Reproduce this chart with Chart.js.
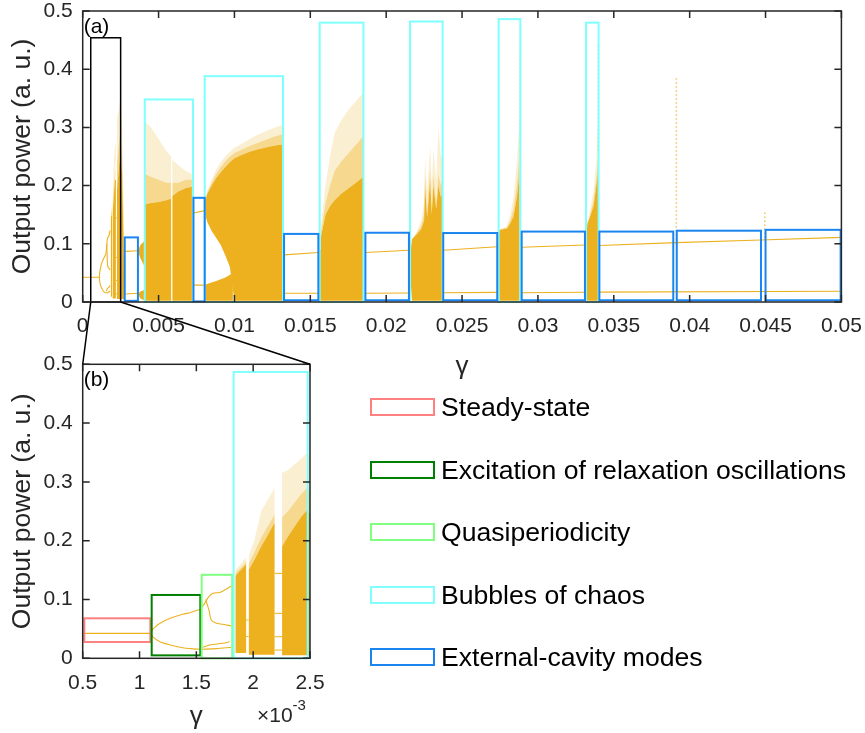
<!DOCTYPE html>
<html lang="en">
<head>
<meta charset="UTF-8">
<title>Output power versus feedback strength</title>
<script src="https://cdn.jsdelivr.net/npm/chart.js"></script>
<style>
  body { margin: 0; background: #fff; overflow: hidden; }
  #wrap { position: relative; width: 865px; height: 733px; font-family: "Liberation Sans", Arial, sans-serif; }
  #wrap canvas { position: absolute; left: 0; top: 0; }
  .key { position: absolute; left: 370px; width: 61px; height: 14px; border: 2px solid; }
  .keyText { position: absolute; left: 441px; font-size: 26.6px; line-height: 30px; color: #000; white-space: nowrap; }
</style>
</head>
<body>
<div id="wrap">
  <canvas id="fullChart" width="865" height="733"></canvas>
  <canvas id="zoomChart" width="865" height="733"></canvas>
  <div id="legend"></div>
</div>
<script>
const GOLD = '#EDB120';
const AXIS = '#262626';
const FONT = '"Liberation Sans", Arial, sans-serif';

// ---- axis ticks ----
const topXTicks = [0, 0.005, 0.01, 0.015, 0.02, 0.025, 0.03, 0.035, 0.04, 0.045, 0.05];
const topXLabels = ['0', '0.005', '0.01', '0.015', '0.02', '0.025', '0.03', '0.035', '0.04', '0.045', '0.05'];
const zoomXTicks = [0.0005, 0.001, 0.0015, 0.002, 0.0025];
const zoomXLabels = ['0.5', '1', '1.5', '2', '2.5'];
const powerTicks = [0, 0.1, 0.2, 0.3, 0.4, 0.5];
const powerLabels = ['0', '0.1', '0.2', '0.3', '0.4', '0.5'];

// ---- dynamical regimes, [gamma0, gamma1, P0, P1] ----
const bubbleBoxes = [[0.00409, 0.00727, 0, 0.348], [0.00804, 0.0132, 0, 0.388], [0.01562, 0.0185, 0, 0.480],
  [0.02157, 0.02372, 0, 0.482], [0.02741, 0.02884, 0, 0.486], [0.03317, 0.0340, 0, 0.480]];
const ecmBoxes = [[0.00277, 0.00364, 0.002, 0.111], [0.0073, 0.00804, 0.001, 0.179], [0.01327, 0.01553, 0.003, 0.117],
  [0.01863, 0.0215, 0.003, 0.119], [0.02376, 0.02732, 0.003, 0.1185], [0.02893, 0.0331, 0.003, 0.121],
  [0.03405, 0.03892, 0.003, 0.121], [0.03915, 0.0447, 0.003, 0.1225], [0.045, 0.04995, 0.003, 0.124]];
const zoomWindow = [[0.00053, 0.0025, 0, 0.454]];
const steadyBox = [[0.000514, 0.001095, 0.0277, 0.068]];
const roBox = [[0.001107, 0.001535, 0.005, 0.1077]];
const qpBox = [[0.001547, 0.001816, 0, 0.142]];
const chaosBox = [[0.001828, 0.00248, 0, 0.487]];

// ---- periodic / quasi-periodic extrema, [gamma, P] ----
const steadyState = [[0, 0.0424], [0.0011, 0.0424]];
const roUpper = [[0.0011, 0.0430], [0.00112, 0.0500], [0.00118, 0.0595], [0.00127, 0.0680], [0.00138, 0.0748], [0.00145, 0.0780], [0.001535, 0.0833]];
const roLower = [[0.0011, 0.0430], [0.00112, 0.0360], [0.00118, 0.0280], [0.00127, 0.0226], [0.00138, 0.0180], [0.00145, 0.0165], [0.001535, 0.0153]];
const qpTop = [[0.001535, 0.0833], [0.001573, 0.0935], [0.001611, 0.1048], [0.001647, 0.1105], [0.001705, 0.1120], [0.001749, 0.1160], [0.001808, 0.1230]];
const qpMid = [[0.001582, 0.1000], [0.001611, 0.0820], [0.001632, 0.0650], [0.001676, 0.0595], [0.001734, 0.0580], [0.001808, 0.0550]];
const qpLow1 = [[0.001544, 0.0153], [0.001676, 0.0165], [0.001808, 0.0187]];
const qpLow2 = [[0.001558, 0.0187], [0.001617, 0.0226], [0.001734, 0.0255], [0.001793, 0.0283]];
// short periodic windows between the chaotic bands
const windowLines = [[0.00194, 0.065], [0.00196, 0.065], [0.001961, null], [0.00194, 0.037], [0.00196, 0.037], [0.001961, null],
  [0.00219, 0.1445], [0.002254, 0.1445], [0.002255, null], [0.00219, 0.0765], [0.002254, 0.0765], [0.002255, null],
  [0.00219, 0.0367], [0.002254, 0.0367], [0.002255, null], [0.00219, 0.014], [0.002254, 0.014]];
const ecmUpper = [[0.00277, 0.087], [0.00364, 0.088], [0.00365, null], [0.0073, 0.153], [0.00804, 0.157], [0.00805, null],
  [0.01327, 0.081], [0.01553, 0.085], [0.01554, null], [0.01863, 0.085], [0.0215, 0.089], [0.02151, null],
  [0.02376, 0.089], [0.02732, 0.095], [0.02733, null], [0.02893, 0.094], [0.0331, 0.098], [0.03311, null],
  [0.03405, 0.097], [0.0391, 0.102], [0.0447, 0.1065], [0.05, 0.111]];
const ecmLower = [[0.00277, 0.0137], [0.00364, 0.015], [0.00365, null], [0.0073, 0.029], [0.00804, 0.029], [0.00805, null],
  [0.01327, 0.015], [0.01553, 0.015], [0.01554, null], [0.01863, 0.015], [0.0215, 0.0155], [0.02151, null],
  [0.02376, 0.016], [0.02732, 0.0165], [0.02733, null], [0.02893, 0.016], [0.0331, 0.0168], [0.03311, null],
  [0.03405, 0.017], [0.05, 0.0184]];

// ---- chaotic clouds, [gamma, Pmin, dense top, speckled top, sparse top] ----
const chaosA = [[0.001843, 0.009, 0.140, 0.145, 0.150], [0.00188, 0.009, 0.148, 0.152, 0.158], [0.00191, 0.009, 0.154, 0.158, 0.165], [0.00194, 0.009, 0.160, 0.165, 0.172]];
const chaosB = [[0.00196, 0.006, 0.150, 0.160, 0.175], [0.00201, 0.006, 0.167, 0.180, 0.200], [0.00207, 0.006, 0.190, 0.205, 0.250], [0.00213, 0.006, 0.210, 0.225, 0.270], [0.00219, 0.006, 0.232, 0.245, 0.290]];
const chaosC = [[0.002254, 0.005, 0.190, 0.240, 0.315], [0.002306, 0.005, 0.207, 0.250, 0.320], [0.002365, 0.005, 0.224, 0.265, 0.330], [0.002424, 0.005, 0.241, 0.280, 0.340],
  [0.002476, 0.005, 0.252, 0.290, 0.350], [0.0026, 0.005, 0.220, 0.250, 0.300], [0.0027, 0.005, 0.100, 0.120, 0.150], [0.00273, 0.005, 0.030, 0.030, 0.030]];
const lobeUpper = [[0.00364, 0.087, 0.087], [0.0038, 0.075, 0.098], [0.0040, 0.065, 0.103], [0.0041, 0.060, 0.105]];
const lobeLower = [[0.00364, 0.014, 0.014], [0.0038, 0.006, 0.018], [0.0041, 0.002, 0.021]];
const bubble1a = [[0.0041, 0.002, 0.168, 0.220, 0.310], [0.0045, 0.002, 0.170, 0.215, 0.300], [0.0050, 0.002, 0.172, 0.210, 0.280], [0.0055, 0.002, 0.175, 0.205, 0.260], [0.00584, 0.002, 0.178, 0.205, 0.250]];
const bubble1b = [[0.0059, 0.002, 0.182, 0.205, 0.245], [0.0063, 0.002, 0.190, 0.205, 0.235], [0.0068, 0.002, 0.196, 0.210, 0.225], [0.0072, 0.002, 0.198, 0.210, 0.220]];
const bubble2Low = [[0.00808, 0.002, 0.030], [0.0088, 0.002, 0.036], [0.0094, 0.002, 0.042], [0.0099, 0.002, 0.050]];
const bubble2 = [[0.00806, 0.152, 0.172, 0.174, 0.175], [0.0082, 0.138, 0.185, 0.188, 0.190], [0.0085, 0.122, 0.200, 0.205, 0.210], [0.0088, 0.110, 0.213, 0.220, 0.228],
  [0.0091, 0.098, 0.223, 0.232, 0.240], [0.0094, 0.080, 0.232, 0.242, 0.250], [0.0097, 0.060, 0.240, 0.250, 0.258], [0.0100, 0.002, 0.247, 0.256, 0.265],
  [0.0105, 0.002, 0.253, 0.262, 0.272], [0.0110, 0.002, 0.258, 0.268, 0.280], [0.0115, 0.002, 0.262, 0.273, 0.287], [0.0120, 0.002, 0.265, 0.278, 0.293],
  [0.0125, 0.002, 0.268, 0.283, 0.298], [0.0130, 0.002, 0.270, 0.287, 0.303], [0.0132, 0.002, 0.270, 0.288, 0.305]];
const bubble3 = [[0.01564, 0.030, 0.090, 0.095, 0.100], [0.0157, 0.002, 0.112, 0.120, 0.130], [0.0160, 0.002, 0.150, 0.170, 0.200], [0.0163, 0.002, 0.165, 0.200, 0.250],
  [0.0166, 0.002, 0.175, 0.225, 0.290], [0.0170, 0.002, 0.185, 0.240, 0.310], [0.0175, 0.002, 0.195, 0.255, 0.330], [0.0180, 0.002, 0.205, 0.270, 0.345], [0.0185, 0.002, 0.215, 0.285, 0.360]];
const bubble4 = [[0.0216, 0.040, 0.085, 0.085, 0.085], [0.0217, 0.002, 0.108, 0.108, 0.108], [0.0220, 0.002, 0.116, 0.118, 0.120], [0.0223, 0.002, 0.125, 0.130, 0.140],
  [0.0225, 0.002, 0.140, 0.150, 0.170], [0.02256, 0.002, 0.200, 0.220, 0.250], [0.0227, 0.002, 0.145, 0.155, 0.190], [0.0229, 0.002, 0.210, 0.230, 0.270],
  [0.0230, 0.002, 0.150, 0.160, 0.200], [0.02311, 0.002, 0.200, 0.220, 0.260], [0.0233, 0.002, 0.160, 0.170, 0.210], [0.02344, 0.002, 0.200, 0.220, 0.300],
  [0.0236, 0.002, 0.180, 0.200, 0.250], [0.0237, 0.002, 0.190, 0.210, 0.250]];
const bubble5 = [[0.02743, 0.040, 0.110, 0.110, 0.110], [0.02746, 0.002, 0.124, 0.124, 0.124], [0.02795, 0.002, 0.126, 0.128, 0.130], [0.02817, 0.002, 0.135, 0.140, 0.150],
  [0.02839, 0.002, 0.147, 0.160, 0.180], [0.02861, 0.002, 0.180, 0.200, 0.240], [0.0288, 0.002, 0.225, 0.260, 0.320]];
const bubble6 = [[0.0332, 0.002, 0.120, 0.120, 0.120], [0.03326, 0.002, 0.135, 0.135, 0.135], [0.03344, 0.002, 0.147, 0.150, 0.160], [0.03366, 0.002, 0.164, 0.175, 0.190],
  [0.03384, 0.002, 0.198, 0.210, 0.240], [0.03397, 0.002, 0.227, 0.250, 0.310]];
// isolated vertical trails of points, [gamma, Pmin, Pmax]
const sparseSpikes = [[0.02884, 0.25, 0.43], [0.03398, 0.26, 0.445], [0.03912, 0.10, 0.387], [0.04495, 0.11, 0.157]];

const layerColors = [GOLD, 'rgba(237,177,32,0.5)', 'rgba(237,177,32,0.2)'];

function curve(points, extra) {
  return Object.assign({
    data: points.map(([x, y]) => ({ x, y })),
    borderColor: GOLD, borderWidth: 1.1, pointRadius: 0, fill: false, tension: 0.3
  }, extra || {});
}

function cloud(rows) {
  const base = { pointRadius: 0, borderWidth: 0, borderColor: 'rgba(0,0,0,0)', tension: 0 };
  const sets = [Object.assign({}, base, { data: rows.map(r => ({ x: r[0], y: r[1] })), fill: false })];
  for (let i = 2; i < rows[0].length; i++) {
    sets.push(Object.assign({}, base, {
      data: rows.map(r => ({ x: r[0], y: r[i] })),
      fill: '-1', backgroundColor: layerColors[i - 2]
    }));
  }
  return sets;
}

function buildDatasets() {
  let sets = [];
  [chaosA, chaosB, chaosC, lobeUpper, lobeLower, bubble1a, bubble1b, bubble2Low, bubble2,
    bubble3, bubble4, bubble5, bubble6].forEach(rows => { sets = sets.concat(cloud(rows)); });
  sparseSpikes.forEach(([x, lo, hi]) => {
    sets.push(curve([[x, lo], [x, hi]], { borderColor: 'rgba(237,177,32,0.75)', borderWidth: 1.5, borderDash: [1.5, 2.5], tension: 0 }));
  });
  [steadyState, roUpper, roLower, qpTop, qpMid, qpLow1, qpLow2].forEach(p => sets.push(curve(p)));
  sets.push(curve(windowLines, { tension: 0, borderWidth: 1 }));
  sets.push(curve(ecmUpper, { tension: 0 }));
  sets.push(curve(ecmLower, { tension: 0 }));
  return sets;
}

// outlined regime rectangles
const regionPlugin = {
  id: 'regions',
  afterDatasetsDraw(chart, args, opts) {
    const { ctx, scales: { x, y } } = chart;
    ctx.save();
    (opts.groups || []).forEach(g => {
      ctx.strokeStyle = g.color;
      ctx.lineWidth = g.width;
      g.boxes.forEach(([x0, x1, y0, y1]) => {
        const l = x.getPixelForValue(x0), r = x.getPixelForValue(x1);
        const t = y.getPixelForValue(y1), b = y.getPixelForValue(y0);
        ctx.strokeRect(l, t, r - l, b - t);
      });
    });
    ctx.restore();
  }
};

// boxed axes with inward ticks on all sides, plus panel letter
const framePlugin = {
  id: 'frame',
  afterDraw(chart, args, opts) {
    const { ctx, chartArea: a, scales: { x, y } } = chart;
    ctx.save();
    ctx.strokeStyle = AXIS;
    ctx.lineWidth = 1.5;
    ctx.beginPath();
    x.ticks.forEach(t => {
      const p = x.getPixelForValue(t.value);
      ctx.moveTo(p, a.bottom); ctx.lineTo(p, a.bottom - 7);
      ctx.moveTo(p, a.top); ctx.lineTo(p, a.top + 7);
    });
    y.ticks.forEach(t => {
      const p = y.getPixelForValue(t.value);
      ctx.moveTo(a.left, p); ctx.lineTo(a.left + 7, p);
      ctx.moveTo(a.right, p); ctx.lineTo(a.right - 7, p);
    });
    ctx.stroke();
    ctx.strokeRect(a.left, a.top, a.right - a.left, a.bottom - a.top);
    ctx.fillStyle = '#000';
    ctx.font = '21px ' + FONT;
    ctx.textAlign = 'left';
    ctx.textBaseline = 'middle';
    ctx.fillText(opts.letter, a.left + 1, a.top + 16);
    if (opts.exponent) {
      ctx.fillStyle = AXIS;
      ctx.fillText('×10', 257, 716);
      const w = ctx.measureText('×10').width;
      ctx.font = '15px ' + FONT;
      ctx.fillText('-3', 257 + w, 706);
    }
    ctx.restore();
  }
};

function axes(xMin, xMax, xTicks, xLabels, xHeight, titlePad) {
  const tickFont = { family: FONT, size: 21, lineHeight: 1 };
  return {
    x: {
      type: 'linear', min: xMin, max: xMax,
      afterBuildTicks: s => { s.ticks = xTicks.map(v => ({ value: v })); },
      afterFit: s => { s.height = xHeight; s.paddingLeft = 0; s.paddingRight = 0; },
      ticks: { callback: (v, i) => xLabels[i], font: tickFont, color: AXIS, padding: 14, maxRotation: 0, autoSkip: false },
      grid: { display: false, drawTicks: false }, border: { display: false },
      title: { display: true, text: 'γ', font: { family: FONT, size: 26 }, color: AXIS, padding: { top: 0, bottom: titlePad } }
    },
    y: {
      type: 'linear', min: 0, max: 0.5,
      afterBuildTicks: s => { s.ticks = powerTicks.map(v => ({ value: v })); },
      afterFit: s => { s.width = 82.7; s.paddingTop = 0; s.paddingBottom = 0; },
      ticks: { callback: (v, i) => powerLabels[i], font: tickFont, color: AXIS, padding: 10 },
      grid: { display: false, drawTicks: false }, border: { display: false },
      title: { display: true, text: 'Output power (a. u.)', font: { family: FONT, size: 26.5 }, color: AXIS, padding: { top: 6.5, bottom: 0 } }
    }
  };
}

// nudge the layout padding so the plot area lands on the wanted pixels
function placeArea(chart, target) {
  const a = chart.chartArea, p = chart.options.layout.padding;
  p.left += target.left - a.left;
  p.top += target.top - a.top;
  p.right += a.right - target.right;
  p.bottom += a.bottom - target.bottom;
  chart.update();
}

const fullChart = new Chart(document.getElementById('fullChart'), {
  type: 'line',
  data: { datasets: buildDatasets() },
  plugins: [regionPlugin, framePlugin],
  options: {
    responsive: false, animation: false, events: [],
    layout: { padding: { left: 0, top: 11, right: 23.6, bottom: 346 } },
    plugins: {
      legend: { display: false }, tooltip: { enabled: false },
      regions: { groups: [
        { color: '#80FFFF', width: 2, boxes: bubbleBoxes },
        { color: '#1A85F0', width: 2, boxes: ecmBoxes },
        { color: '#000000', width: 1.5, boxes: zoomWindow }
      ] },
      frame: { letter: '(a)' }
    },
    scales: axes(0, 0.05, topXTicks, topXLabels, 85, 4.4)
  }
});
placeArea(fullChart, { left: 82.7, top: 11, right: 841.4, bottom: 302 });

// lines joining the zoom window to the inset axes
const connectorPlugin = {
  id: 'connector',
  afterDraw(chart) {
    const { ctx, chartArea: a } = chart;
    const fx = fullChart.scales.x, fy = fullChart.scales.y;
    const [x0, x1] = zoomWindow[0];
    ctx.save();
    ctx.strokeStyle = '#000';
    ctx.lineWidth = 1.5;
    ctx.beginPath();
    ctx.moveTo(fx.getPixelForValue(x0), fy.getPixelForValue(0)); ctx.lineTo(a.left, a.top);
    ctx.moveTo(fx.getPixelForValue(x1), fy.getPixelForValue(0)); ctx.lineTo(a.right, a.top);
    ctx.stroke();
    ctx.restore();
  }
};

const zoomChart = new Chart(document.getElementById('zoomChart'), {
  type: 'line',
  data: { datasets: buildDatasets() },
  plugins: [regionPlugin, framePlugin, connectorPlugin],
  options: {
    responsive: false, animation: false, events: [],
    layout: { padding: { left: 0, top: 364.3, right: 555, bottom: 0 } },
    plugins: {
      legend: { display: false }, tooltip: { enabled: false },
      regions: { groups: [
        { color: '#FF8080', width: 2, boxes: steadyBox },
        { color: '#008000', width: 2, boxes: roBox },
        { color: '#80FF80', width: 2, boxes: qpBox },
        { color: '#80FFFF', width: 2, boxes: chaosBox }
      ] },
      frame: { letter: '(b)', exponent: true }
    },
    scales: axes(0.0005, 0.0025, zoomXTicks, zoomXLabels, 74.7, 0.4)
  }
});
placeArea(zoomChart, { left: 82.7, top: 364.3, right: 310, bottom: 658.3 });

// legend of regimes
const legendNames = ['Steady-state', 'Excitation of relaxation oscillations', 'Quasiperiodicity', 'Bubbles of chaos', 'External-cavity modes'];
const legendColors = ['#FF8080', '#008000', '#80FF80', '#80FFFF', '#1A85F0'];
const legend = document.getElementById('legend');
legendNames.forEach((name, i) => {
  const mid = 407.3 + i * 62.4;
  const box = document.createElement('div');
  box.className = 'key';
  box.style.top = (mid - 9) + 'px';
  box.style.borderColor = legendColors[i];
  const label = document.createElement('div');
  label.className = 'keyText';
  label.style.top = (mid - 15) + 'px';
  label.textContent = name;
  legend.appendChild(box);
  legend.appendChild(label);
});
</script>
</body>
</html>
